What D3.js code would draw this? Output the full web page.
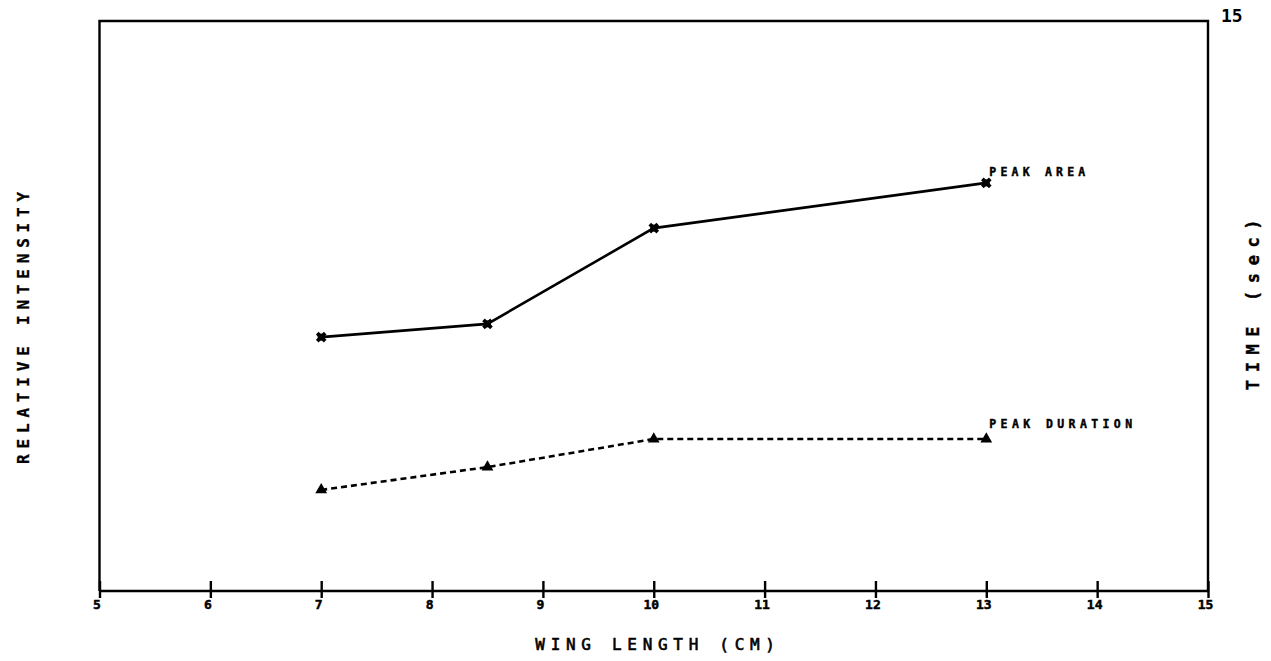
<!DOCTYPE html>
<html>
<head>
<meta charset="utf-8">
<script src="https://cdn.jsdelivr.net/npm/d3@7"></script>
<style>
  html, body { margin: 0; padding: 0; background: #fff; }
  svg { display: block; }
  text { font-family: "DejaVu Sans Mono", "Liberation Mono", monospace; font-weight: bold; fill: #000; }
</style>
</head>
<body>
<svg id="chart" width="1271" height="661"></svg>
<script>
// Wing length (cm) at which each measurement was taken
const wingLength = [7, 8.5, 10, 13];
// Relative intensity of the peak area (plotted on the 0–15 scale)
const peakArea = [6.68, 7.03, 9.55, 10.74];
// Peak duration, seconds
const peakDuration = [2.66, 3.26, 4.0, 4.0];
// Axis tick values
const xTicks = [5, 6, 7, 8, 9, 10, 11, 12, 13, 14, 15];
const yMax = 15;

const svg = d3.select("#chart");
const plotTop = 21, plotBottom = 591;

const x = d3.scaleLinear().domain([5, 15]).range([99.5, 1208]);
const y = d3.scaleLinear().domain([0, yMax]).range([plotBottom, plotTop]);
const [frameLeft, frameRight] = x.range();

// Frame: left, top and right borders
svg.append("path")
  .attr("d", `M${frameLeft},${plotBottom} V${plotTop} H${frameRight} V${plotBottom}`)
  .attr("fill", "none").attr("stroke", "#000").attr("stroke-width", 2.4);

// Bottom axis with ticks that cross the line
const xAxis = d3.axisBottom(x).tickValues(xTicks).tickSize(0).tickFormat(d3.format("d"));
const gx = svg.append("g").attr("transform", `translate(0,${plotBottom})`).call(xAxis);
gx.select(".domain").attr("d", `M${frameLeft},0H${frameRight}`)
  .attr("stroke", "#000").attr("stroke-width", 2.4);
gx.selectAll(".tick line").remove();
gx.selectAll(".tick").append("line")
  .attr("y1", -10).attr("y2", 7).attr("stroke", "#000").attr("stroke-width", 2.4);
gx.selectAll(".tick text")
  .attr("x", -3).attr("y", 9).attr("dy", "0.71em")
  .style("font-size", "13px").style("stroke", "#000").style("stroke-width", 0.5);

// Right-hand scale label at the top
svg.append("text")
  .attr("x", frameRight + 13).attr("y", y(yMax) - 5)
  .attr("dy", "0.35em")
  .style("font-size", "18px")
  .text(d3.format("d")(yMax));

// Series lines
const line = (vals) => d3.line()
  .x((d, i) => x(wingLength[i]))
  .y(d => y(d))(vals);

svg.append("path").attr("d", line(peakArea))
  .attr("fill", "none").attr("stroke", "#000").attr("stroke-width", 2.6);

svg.append("path").attr("d", line(peakDuration))
  .attr("fill", "none").attr("stroke", "#000").attr("stroke-width", 2.6)
  .attr("stroke-dasharray", "6,4");

// Markers: stars for peak area, triangles for peak duration
svg.append("g").selectAll("path").data(peakArea).join("path")
  .attr("d", d3.symbol(d3.symbolCross, 70))
  .attr("transform", (d, i) => `translate(${x(wingLength[i])},${y(d)}) rotate(45)`)
  .attr("fill", "#000");
svg.append("g").selectAll("rect").data(peakArea).join("rect")
  .attr("x", (d, i) => x(wingLength[i]) - 3.5).attr("y", d => y(d) - 3.5)
  .attr("width", 7).attr("height", 7).attr("fill", "#000");

svg.append("g").selectAll("path").data(peakDuration).join("path")
  .attr("d", d3.symbol(d3.symbolTriangle, 60))
  .attr("transform", (d, i) => `translate(${x(wingLength[i])},${y(d)})`)
  .attr("fill", "#000");

// Series labels near the last point
svg.append("text")
  .attr("x", x(13) + 3).attr("y", y(peakArea[3]) - 7)
  .style("font-size", "11.5px").style("letter-spacing", "4.2px")
  .style("stroke", "#000").style("stroke-width", 0.4)
  .text("PEAK AREA");
svg.append("text")
  .attr("x", x(13) + 3).attr("y", y(peakDuration[3]) - 11)
  .style("font-size", "11.5px").style("letter-spacing", "4.4px")
  .style("stroke", "#000").style("stroke-width", 0.4)
  .text("PEAK DURATION");

// Axis titles
svg.append("text")
  .attr("x", 658).attr("y", 650)
  .attr("text-anchor", "middle")
  .style("font-size", "16px").style("letter-spacing", "5.7px").style("font-weight", "normal")
  .style("stroke", "#000").style("stroke-width", 0.6)
  .text("WING LENGTH (CM)");

svg.append("text")
  .attr("transform", `translate(29,${325}) rotate(-90)`)
  .attr("text-anchor", "middle")
  .style("font-size", "16px").style("letter-spacing", "5.8px")
  .style("stroke", "#000").style("stroke-width", 0.3)
  .text("RELATIVE INTENSITY");

svg.append("text")
  .attr("transform", `translate(1259,${301}) rotate(-90)`)
  .attr("text-anchor", "middle")
  .style("font-size", "17px").style("letter-spacing", "7.6px")
  .style("stroke", "#000").style("stroke-width", 0.4)
  .text("TIME  (sec)");
</script>
</body>
</html>
